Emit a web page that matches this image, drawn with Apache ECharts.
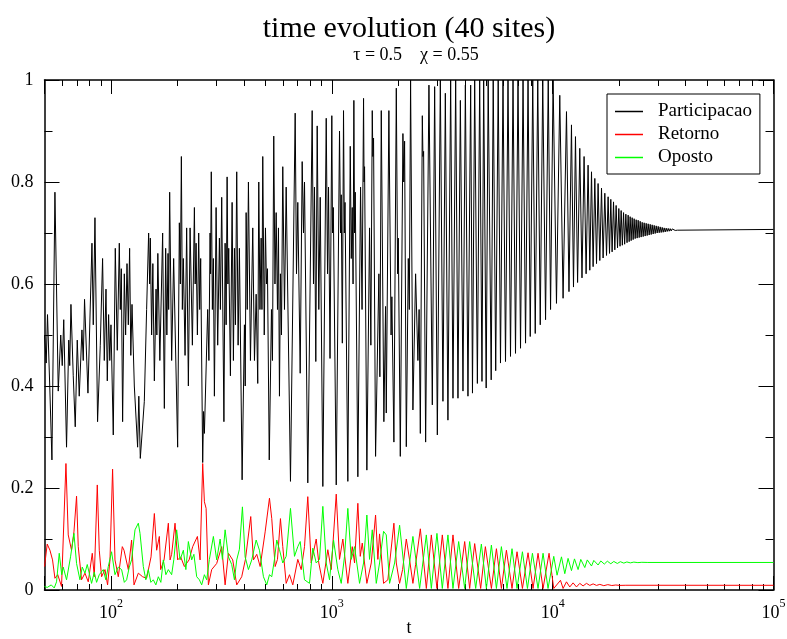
<!DOCTYPE html>
<html>
<head>
<meta charset="utf-8">
<title>time evolution (40 sites)</title>
<script src="https://cdn.jsdelivr.net/npm/echarts@6.0.0/dist/echarts.min.js"></script>
<style>
  html, body { margin: 0; padding: 0; background: #fff; }
  #chart { width: 787px; height: 639px; }
</style>
</head>
<body>
<div id="chart"></div>
<script>
var partLogT = [
  1.699, 1.7067, 1.7126, 1.7227, 1.7326, 1.7462, 1.7612, 1.7725, 1.7793, 1.7861,
  1.7988, 1.8088, 1.8133, 1.8187, 1.8291, 1.8382, 1.8473, 1.8563, 1.8685, 1.8744,
  1.8803, 1.8957, 1.9139, 1.9198, 1.9275, 1.9393, 1.9515, 1.9620, 1.9697, 1.9774,
  1.9833, 1.9892, 1.9946, 2.0000, 2.0104, 2.0195, 2.0286, 2.0377, 2.0422, 2.0468,
  2.0527, 2.0604, 2.0663, 2.0726, 2.0785, 2.0844, 2.0898, 2.0952, 2.1057, 2.1206,
  2.1261, 2.1328, 2.1510, 2.1614, 2.1705, 2.1751, 2.1782, 2.1841, 2.1896, 2.1964,
  2.2041, 2.2077, 2.2122, 2.2213, 2.2340, 2.2417, 2.2476, 2.2530, 2.2584, 2.2612,
  2.2657, 2.2747, 2.2838, 2.3019, 2.3096, 2.3141, 2.3187, 2.3232, 2.3277, 2.3354,
  2.3427, 2.3504, 2.3582, 2.3686, 2.3777, 2.3813, 2.3854, 2.3913, 2.3972, 2.4017,
  2.4062, 2.4153, 2.4193, 2.4230, 2.4379, 2.4434, 2.4488, 2.4510, 2.4542, 2.4592,
  2.4637, 2.4683, 2.4760, 2.4832, 2.4910, 2.4955, 2.5014, 2.5114, 2.5168, 2.5214,
  2.5259, 2.5295, 2.5332, 2.5408, 2.5485, 2.5544, 2.5590, 2.5635, 2.5694, 2.5757,
  2.5816, 2.5938, 2.6043, 2.6079, 2.6120, 2.6170, 2.6224, 2.6315, 2.6420, 2.6497,
  2.6574, 2.6646, 2.6692, 2.6746, 2.6800, 2.6836, 2.6873, 2.6941, 2.6995, 2.7040,
  2.7086, 2.7167, 2.7267, 2.7312, 2.7371, 2.7425, 2.7480, 2.7539, 2.7584, 2.7629,
  2.7674, 2.7720, 2.7779, 2.7856, 2.7933, 2.8128, 2.8341, 2.8400, 2.8459, 2.8568,
  2.8658, 2.8717, 2.8763, 2.8912, 2.9111, 2.9170, 2.9215, 2.9275, 2.9338, 2.9411,
  2.9475, 2.9593, 2.9747, 2.9806, 2.9851, 2.9919, 3.0000, 3.0032, 3.0068, 3.0200,
  3.0349, 3.0394, 3.0426, 3.0476, 3.0530, 3.0567, 3.0598, 3.0725, 3.0835, 3.0880,
  3.0925, 3.0962, 3.0998, 3.1030, 3.1061, 3.1179, 3.1301, 3.1369, 3.1437, 3.1460,
  3.1483, 3.1587, 3.1709, 3.1768, 3.1831, 3.1859, 3.1890, 3.1981, 3.2131, 3.2176,
  3.2239, 3.2357, 3.2434, 3.2466, 3.2584, 3.2684, 3.2720, 3.2811, 3.2920, 3.2979,
  3.3010, 3.3101, 3.3219, 3.3259, 3.3296, 3.3373, 3.3463, 3.3509, 3.3567, 3.3672,
  3.3794, 3.3898, 3.3953, 3.4008, 3.4098, 3.4126, 3.4157, 3.4248, 3.4398, 3.4551,
  3.4656, 3.4778, 3.4914, 3.5032, 3.5140, 3.5258, 3.5381, 3.5486, 3.5608, 3.5712,
  3.5821, 3.5939, 3.6047, 3.6165, 3.6287, 3.6369, 3.6469, 3.6591, 3.6695, 3.6799,
  3.6876, 3.6990, 3.7080, 3.7217, 3.7308, 3.7421, 3.7534, 3.7638, 3.7752, 3.7865,
  3.7978, 3.8091, 3.8205, 3.8318, 3.8431, 3.8545, 3.8659, 3.8772, 3.8885, 3.8985,
  3.9098, 3.9211, 3.9325, 3.9438, 3.9551, 3.9678, 3.9800, 3.9905, 4.0019, 4.0173,
  4.0322, 4.0472, 4.0626, 4.0739, 4.0852, 4.0943, 4.1033, 4.1129, 4.1228, 4.1328,
  4.1423, 4.1514, 4.1604, 4.1682, 4.1759, 4.1832, 4.1909, 4.1986, 4.2058, 4.2135,
  4.2212, 4.2285, 4.2362, 4.2439, 4.2511, 4.2575, 4.2633, 4.2692, 4.2756, 4.2815,
  4.2874, 4.2937, 4.2996, 4.3051, 4.3101, 4.3155, 4.3210, 4.3260, 4.3314, 4.3368,
  4.3418, 4.3464, 4.3509, 4.3554, 4.3600, 4.3645, 4.3690, 4.3736, 4.3781, 4.3826,
  4.3872, 4.3917, 4.3962, 4.4007, 4.4053, 4.4098, 4.4143, 4.4189, 4.4234, 4.4279,
  4.4325, 4.4370, 4.4416, 4.4461, 4.4506, 4.4552, 4.4597, 4.4642, 4.4688, 4.4733,
  4.4778, 4.4824, 4.4869, 4.4914, 4.4960, 4.5005, 4.5050, 4.5096, 4.5141, 4.5186,
  4.5232, 4.5277, 4.5322, 4.5367, 4.5413, 4.5458, 4.5503, 4.5549, 4.5594, 4.5648,
  4.5716, 5.0
];
var partVal = [
  0.50, 0.445, 0.54, 0.40, 0.255, 0.78, 0.39, 0.50, 0.44, 0.53,
  0.28, 0.49, 0.44, 0.56, 0.42, 0.32, 0.49, 0.38, 0.51, 0.45,
  0.57, 0.386, 0.68, 0.52, 0.73, 0.33, 0.48, 0.65, 0.45, 0.59,
  0.41, 0.54, 0.45, 0.52, 0.304, 0.67, 0.47, 0.68, 0.55, 0.63,
  0.33, 0.62, 0.50, 0.64, 0.52, 0.67, 0.46, 0.56, 0.40, 0.28,
  0.38, 0.258, 0.37, 0.55, 0.70, 0.60, 0.69, 0.50, 0.64, 0.41,
  0.59, 0.50, 0.66, 0.45, 0.70, 0.356, 0.67, 0.50, 0.66, 0.55,
  0.78, 0.45, 0.65, 0.28, 0.72, 0.60, 0.85, 0.55, 0.65, 0.46,
  0.71, 0.40, 0.71, 0.48, 0.75, 0.60, 0.68, 0.50, 0.70, 0.55,
  0.65, 0.25, 0.35, 0.307, 0.55, 0.45, 0.70, 0.62, 0.82, 0.55,
  0.65, 0.38, 0.75, 0.48, 0.69, 0.55, 0.77, 0.33, 0.68, 0.52,
  0.81, 0.60, 0.67, 0.42, 0.76, 0.45, 0.67, 0.52, 0.82, 0.48,
  0.67, 0.216, 0.52, 0.40, 0.74, 0.55, 0.80, 0.45, 0.71, 0.45,
  0.58, 0.405, 0.80, 0.55, 0.69, 0.55, 0.85, 0.50, 0.71, 0.60,
  0.63, 0.255, 0.55, 0.45, 0.89, 0.60, 0.74, 0.55, 0.71, 0.38,
  0.62, 0.50, 0.83, 0.55, 0.79, 0.213, 0.935, 0.62, 0.76, 0.425,
  0.84, 0.70, 0.80, 0.21, 0.94, 0.60, 0.79, 0.448, 0.91, 0.55,
  0.77, 0.203, 0.925, 0.62, 0.79, 0.454, 0.93, 0.70, 0.75, 0.206,
  0.90, 0.70, 0.775, 0.484, 0.94, 0.70, 0.76, 0.213, 0.87, 0.65,
  0.75, 0.60, 0.96, 0.70, 0.78, 0.222, 0.79, 0.55, 0.964, 0.80,
  0.83, 0.235, 0.71, 0.48, 0.94, 0.85, 0.886, 0.262, 0.62, 0.418,
  0.94, 0.33, 0.556, 0.347, 0.94, 0.50, 0.575, 0.29, 0.984, 0.62,
  0.69, 0.262, 0.895, 0.80, 0.88, 0.281, 0.65, 0.55, 1.0, 0.353,
  0.62, 0.45, 0.55, 0.307, 0.93, 0.85, 0.86, 0.29, 0.99, 0.363,
  0.987, 0.304, 1.0, 0.37, 0.974, 0.333, 1.0, 0.376, 1.0, 0.376,
  0.96, 0.39, 0.99, 0.38, 0.99, 0.386, 1.0, 0.405, 1.0, 0.409,
  1.0, 0.396, 1.0, 0.412, 1.0, 0.43, 1.0, 0.445, 1.0, 0.448,
  1.0, 0.458, 1.0, 0.464, 1.0, 0.474, 1.0, 0.484, 1.0, 0.497,
  1.0, 0.503, 1.0, 0.52, 1.0, 0.53, 1.0, 0.55, 1.0, 0.562,
  0.97, 0.572, 0.938, 0.585, 0.912, 0.594, 0.889, 0.603, 0.866, 0.612,
  0.85, 0.62, 0.833, 0.627, 0.82, 0.634, 0.807, 0.64, 0.797, 0.646,
  0.788, 0.651, 0.778, 0.656, 0.771, 0.66, 0.766, 0.663, 0.761, 0.667,
  0.754, 0.671, 0.748, 0.674, 0.744, 0.676, 0.74, 0.678, 0.737, 0.681,
  0.735, 0.683, 0.732, 0.685, 0.73, 0.687, 0.728, 0.689, 0.726, 0.69,
  0.725, 0.691, 0.723, 0.692, 0.721, 0.693, 0.72, 0.694, 0.719, 0.695,
  0.718, 0.696, 0.717, 0.697, 0.716, 0.698, 0.715, 0.699, 0.714, 0.70,
  0.713, 0.7005, 0.712, 0.701, 0.711, 0.7015, 0.710, 0.702, 0.7095, 0.703,
  0.709, 0.7035, 0.7085, 0.704, 0.708, 0.7045, 0.7078, 0.705, 0.7075, 0.7055,
  0.707, 0.707
];

var retLogT = [
  1.699, 1.7113, 1.7236, 1.7354, 1.7462, 1.7589, 1.7761, 1.7961, 1.8065, 1.8142,
  1.8214, 1.8323, 1.8441, 1.8518, 1.8667, 1.8821, 1.8971, 1.9153, 1.9244, 1.9380,
  1.9470, 1.9574, 1.9728, 1.9846, 1.9955, 2.0073, 2.0181, 2.0331, 2.0513, 2.0590,
  2.0785, 2.0934, 2.1043, 2.1238, 2.1433, 2.1614, 2.1814, 2.1964, 2.2068, 2.2190,
  2.2249, 2.2403, 2.2598, 2.2675, 2.2747, 2.2901, 2.3019, 2.3155, 2.3323, 2.3536,
  2.3700, 2.3913, 2.4035, 2.4153, 2.4230, 2.4307, 2.4411, 2.4560, 2.4787, 2.5014,
  2.5168, 2.5318, 2.5513, 2.5694, 2.5920, 2.6088, 2.6329, 2.6451, 2.6601, 2.6755,
  2.6981, 2.7176, 2.7280, 2.7434, 2.7539, 2.7674, 2.7779, 2.7933, 2.8083, 2.8233,
  2.8459, 2.8613, 2.8763, 2.8912, 2.9066, 2.9293, 2.9411, 2.9593, 2.9819, 2.9973,
  3.0200, 3.0349, 3.0499, 3.0725, 3.0925, 3.1030, 3.1179, 3.1288, 3.1378, 3.1587,
  3.1786, 3.1981, 3.2085, 3.2162, 3.2343, 3.2538, 3.2811, 3.2920, 3.3069, 3.3205,
  3.3373, 3.3522, 3.3672, 3.3794, 3.4008, 3.4280, 3.4506, 3.4760, 3.5004, 3.5258,
  3.5486, 3.5744, 3.6016, 3.6242, 3.6469, 3.6740, 3.6953, 3.7226, 3.7453, 3.7679,
  3.7906, 3.8159, 3.8386, 3.8631, 3.8885, 3.9112, 3.9338, 3.9565, 3.9837, 4.0050,
  4.0354, 4.0472, 4.0626, 4.0775, 4.0925, 4.1079, 4.1228, 4.1378, 4.1532, 4.1682,
  4.1832, 4.1986, 4.2135, 4.2316, 4.2498, 4.2679, 4.2860, 4.3042, 4.3314, 5.0
];
var retVal = [
  0.046, 0.09, 0.078, 0.059, 0.023, 0.03, 0.007, 0.248, 0.108, 0.111,
  0.078, 0.114, 0.184, 0.085, 0.02, 0.033, 0.016, 0.072, 0.026, 0.206,
  0.078, 0.026, 0.04, 0.01, 0.059, 0.237, 0.059, 0.026, 0.085, 0.078,
  0.04, 0.098, 0.01, 0.033, 0.026, 0.023, 0.065, 0.15, 0.078, 0.105,
  0.04, 0.059, 0.131, 0.059, 0.07, 0.131, 0.059, 0.065, 0.046, 0.059,
  0.085, 0.105, 0.059, 0.248, 0.173, 0.16, 0.01, 0.04, 0.052, 0.085,
  0.01, 0.072, 0.059, 0.01, 0.026, 0.06, 0.144, 0.059, 0.07, 0.046,
  0.114, 0.18, 0.14, 0.046, 0.06, 0.14, 0.085, 0.013, 0.03, 0.01,
  0.06, 0.04, 0.085, 0.183, 0.053, 0.10, 0.053, 0.013, 0.079, 0.04,
  0.188, 0.06, 0.10, 0.013, 0.085, 0.053, 0.17, 0.066, 0.092, 0.013,
  0.053, 0.147, 0.06, 0.11, 0.013, 0.02, 0.131, 0.053, 0.013, 0.04,
  0.10, 0.059, 0.013, 0.05, 0.12, 0.003, 0.108, 0.003, 0.108, 0.003,
  0.108, 0.003, 0.095, 0.003, 0.091, 0.003, 0.085, 0.003, 0.081, 0.003,
  0.078, 0.003, 0.075, 0.003, 0.073, 0.003, 0.072, 0.003, 0.072, 0.003,
  0.019, 0.003, 0.016, 0.006, 0.014, 0.006, 0.013, 0.008, 0.013, 0.009,
  0.012, 0.009, 0.011, 0.0085, 0.0105, 0.0088, 0.0098, 0.009, 0.0093, 0.0092
];

var opoLogT = [
  1.699, 1.7113, 1.7295, 1.7431, 1.7535, 1.7657, 1.7770, 1.7838, 1.7988, 1.8169,
  1.8323, 1.8441, 1.8595, 1.8699, 1.8821, 1.8926, 1.9121, 1.9244, 1.9348, 1.9470,
  1.9651, 1.9765, 1.9878, 2.0027, 2.0181, 2.0331, 2.0481, 2.0604, 2.0708, 2.0830,
  2.0934, 2.1088, 2.1238, 2.1315, 2.1464, 2.1578, 2.1691, 2.1805, 2.1918, 2.2032,
  2.2145, 2.2258, 2.2371, 2.2485, 2.2598, 2.2747, 2.2847, 2.2974, 2.3128, 2.3277,
  2.3391, 2.3504, 2.3654, 2.3754, 2.3881, 2.4003, 2.4107, 2.4230, 2.4334, 2.4456,
  2.4637, 2.4787, 2.4942, 2.5046, 2.5168, 2.5318, 2.5467, 2.5590, 2.5694, 2.5816,
  2.5952, 2.6074, 2.6224, 2.6374, 2.6574, 2.6723, 2.6904, 2.7054, 2.7176, 2.7280,
  2.7403, 2.7507, 2.7629, 2.7779, 2.7933, 2.8128, 2.8310, 2.8459, 2.8568, 2.8763,
  2.8989, 2.9139, 2.9293, 2.9443, 2.9593, 2.9747, 2.9896, 3.0077, 3.0272, 3.0426,
  3.0576, 3.0725, 3.0880, 3.1030, 3.1256, 3.1437, 3.1587, 3.1709, 3.1831, 3.2013,
  3.2162, 3.2343, 3.2466, 3.2616, 3.2843, 3.3069, 3.3373, 3.3672, 3.3976, 3.4280,
  3.4506, 3.4760, 3.5004, 3.5258, 3.5486, 3.5744, 3.6016, 3.6242, 3.6514, 3.6772,
  3.6999, 3.7226, 3.7453, 3.7679, 3.7933, 3.8159, 3.8386, 3.8631, 3.8858, 3.9084,
  3.9338, 3.9565, 3.9791, 4.0050, 4.0200, 4.0399, 4.0549, 4.0698, 4.0852, 4.0988,
  4.1151, 4.1273, 4.1455, 4.1568, 4.1759, 4.1863, 4.2058, 4.2180, 4.2339, 4.2475,
  4.2633, 4.2769, 4.2928, 4.3065, 4.3223, 4.3359, 4.3518, 4.3676, 4.3858, 4.4039,
  4.4311, 5.0
];
var opoVal = [
  0.007, 0.005, 0.01, 0.004, 0.016, 0.072, 0.03, 0.045, 0.02, 0.065,
  0.111, 0.052, 0.02, 0.045, 0.033, 0.05, 0.013, 0.035, 0.015, 0.03,
  0.04, 0.02, 0.046, 0.075, 0.03, 0.045, 0.04, 0.015, 0.02, 0.045,
  0.059, 0.118, 0.131, 0.111, 0.046, 0.02, 0.04, 0.015, 0.02, 0.01,
  0.026, 0.015, 0.059, 0.03, 0.04, 0.03, 0.06, 0.118, 0.059, 0.078,
  0.04, 0.095, 0.059, 0.07, 0.026, 0.02, 0.01, 0.03, 0.02, 0.06,
  0.105, 0.059, 0.10, 0.06, 0.118, 0.065, 0.05, 0.02, 0.059, 0.08,
  0.163, 0.065, 0.04, 0.059, 0.098, 0.078, 0.026, 0.01, 0.03, 0.026,
  0.06, 0.098, 0.079, 0.053, 0.066, 0.16, 0.066, 0.085, 0.095, 0.02,
  0.013, 0.082, 0.053, 0.06, 0.164, 0.053, 0.02, 0.098, 0.04, 0.013,
  0.066, 0.16, 0.06, 0.085, 0.013, 0.053, 0.147, 0.06, 0.118, 0.013,
  0.053, 0.115, 0.108, 0.013, 0.053, 0.127, 0.003, 0.105, 0.003, 0.108,
  0.003, 0.111, 0.003, 0.108, 0.003, 0.095, 0.003, 0.095, 0.003, 0.09,
  0.003, 0.088, 0.003, 0.085, 0.003, 0.081, 0.003, 0.075, 0.003, 0.072,
  0.003, 0.072, 0.003, 0.066, 0.029, 0.065, 0.032, 0.062, 0.038, 0.061,
  0.04, 0.06, 0.044, 0.059, 0.047, 0.058, 0.049, 0.057, 0.0508, 0.0565,
  0.0515, 0.056, 0.052, 0.0555, 0.0527, 0.055, 0.0532, 0.0547, 0.0537, 0.0543,
  0.054, 0.054
];

var seriesNames = ['Participacao', 'Retorno', 'Oposto'];
var seriesColors = ['#000000', '#ff0000', '#00ff00'];

var serif = 'Liberation Serif';

function toPairs(logT, vals) {
  return logT.map(function (l, i) {
    return [Math.pow(10, l), vals[i]];
  });
}

function xAxisCfg(pos, labels) {
  return {
    type: 'log',
    logBase: 10,
    min: 50,
    max: 100000,
    position: pos,
    axisLine: { show: true, onZero: false, lineStyle: { color: '#000', width: 1.5 } },
    axisTick: { show: true, inside: true, length: 14, lineStyle: { color: '#000', width: 1 } },
    minorTick: { show: true, splitNumber: 9, length: 6, lineStyle: { color: '#000', width: 1 } },
    splitLine: { show: false },
    minorSplitLine: { show: false },
    axisLabel: {
      show: labels,
      margin: 8,
      showMinLabel: false,
      showMaxLabel: true,
      formatter: function (v) {
        return '{b|10}{s|' + Math.round(Math.log(v) / Math.LN10) + '}';
      },
      rich: {
        b: { fontFamily: serif, fontSize: 18, lineHeight: 30, color: '#000' },
        s: { fontFamily: serif, fontSize: 12, lineHeight: 12, verticalAlign: 'top', color: '#000' }
      }
    }
  };
}

function yAxisCfg(pos, labels) {
  return {
    type: 'value',
    min: 0,
    max: 1,
    interval: 0.2,
    position: pos,
    axisLine: { show: true, lineStyle: { color: '#000', width: 1.5 } },
    axisTick: { show: true, inside: true, length: 15, lineStyle: { color: '#000', width: 1 } },
    minorTick: { show: true, splitNumber: 2, length: 8, lineStyle: { color: '#000', width: 1 } },
    splitLine: { show: false },
    axisLabel: { show: labels, margin: 11, fontFamily: serif, fontSize: 18, color: '#000' }
  };
}

var chart = echarts.init(document.getElementById('chart'));

var dataSets = [toPairs(partLogT, partVal), toPairs(retLogT, retVal), toPairs(opoLogT, opoVal)];

chart.setOption({
  animation: false,
  backgroundColor: '#fff',
  title: [
    {
      text: 'time evolution (40 sites)',
      left: 409,
      top: 14,
      textAlign: 'center',
      padding: 0,
      textStyle: { fontFamily: serif, fontSize: 30, fontWeight: 'normal', color: '#000' }
    },
    {
      text: 'τ = 0.5    χ = 0.55',
      left: 416,
      top: 46,
      textAlign: 'center',
      padding: 0,
      textStyle: { fontFamily: serif, fontSize: 18, fontWeight: 'normal', color: '#000' }
    },
    {
      // x axis title
      text: 't',
      left: 409,
      top: 619,
      textAlign: 'center',
      padding: 0,
      textStyle: { fontFamily: serif, fontSize: 18, fontWeight: 'normal', color: '#000' }
    }
  ],
  legend: {
    orient: 'vertical',
    left: 607,
    top: 94,
    padding: [8, 8, 7, 8],
    itemGap: 4,
    itemWidth: 28,
    itemHeight: 1.5,
    icon: 'rect',
    borderColor: '#000',
    borderWidth: 1,
    borderRadius: 0,
    backgroundColor: '#fff',
    textStyle: { fontFamily: serif, fontSize: 19, lineHeight: 19, color: '#000', padding: [0, 0, 0, 10] },
    data: seriesNames
  },
  grid: {
    left: 44.5,
    right: 13.5,
    top: 80,
    bottom: 49,
    containLabel: false,
    outerBoundsMode: 'none'
  },
  xAxis: [xAxisCfg('bottom', true), xAxisCfg('top', false)],
  yAxis: [yAxisCfg('left', true), yAxisCfg('right', false)],
  series: seriesNames.map(function (name, i) {
    return {
      name: name,
      type: 'line',
      xAxisIndex: 0,
      yAxisIndex: 0,
      data: dataSets[i],
      symbol: 'none',
      showSymbol: false,
      clip: true,
      silent: true,
      lineStyle: { color: seriesColors[i], width: 1 },
      itemStyle: { color: seriesColors[i] }
    };
  })
});
</script>
</body>
</html>
